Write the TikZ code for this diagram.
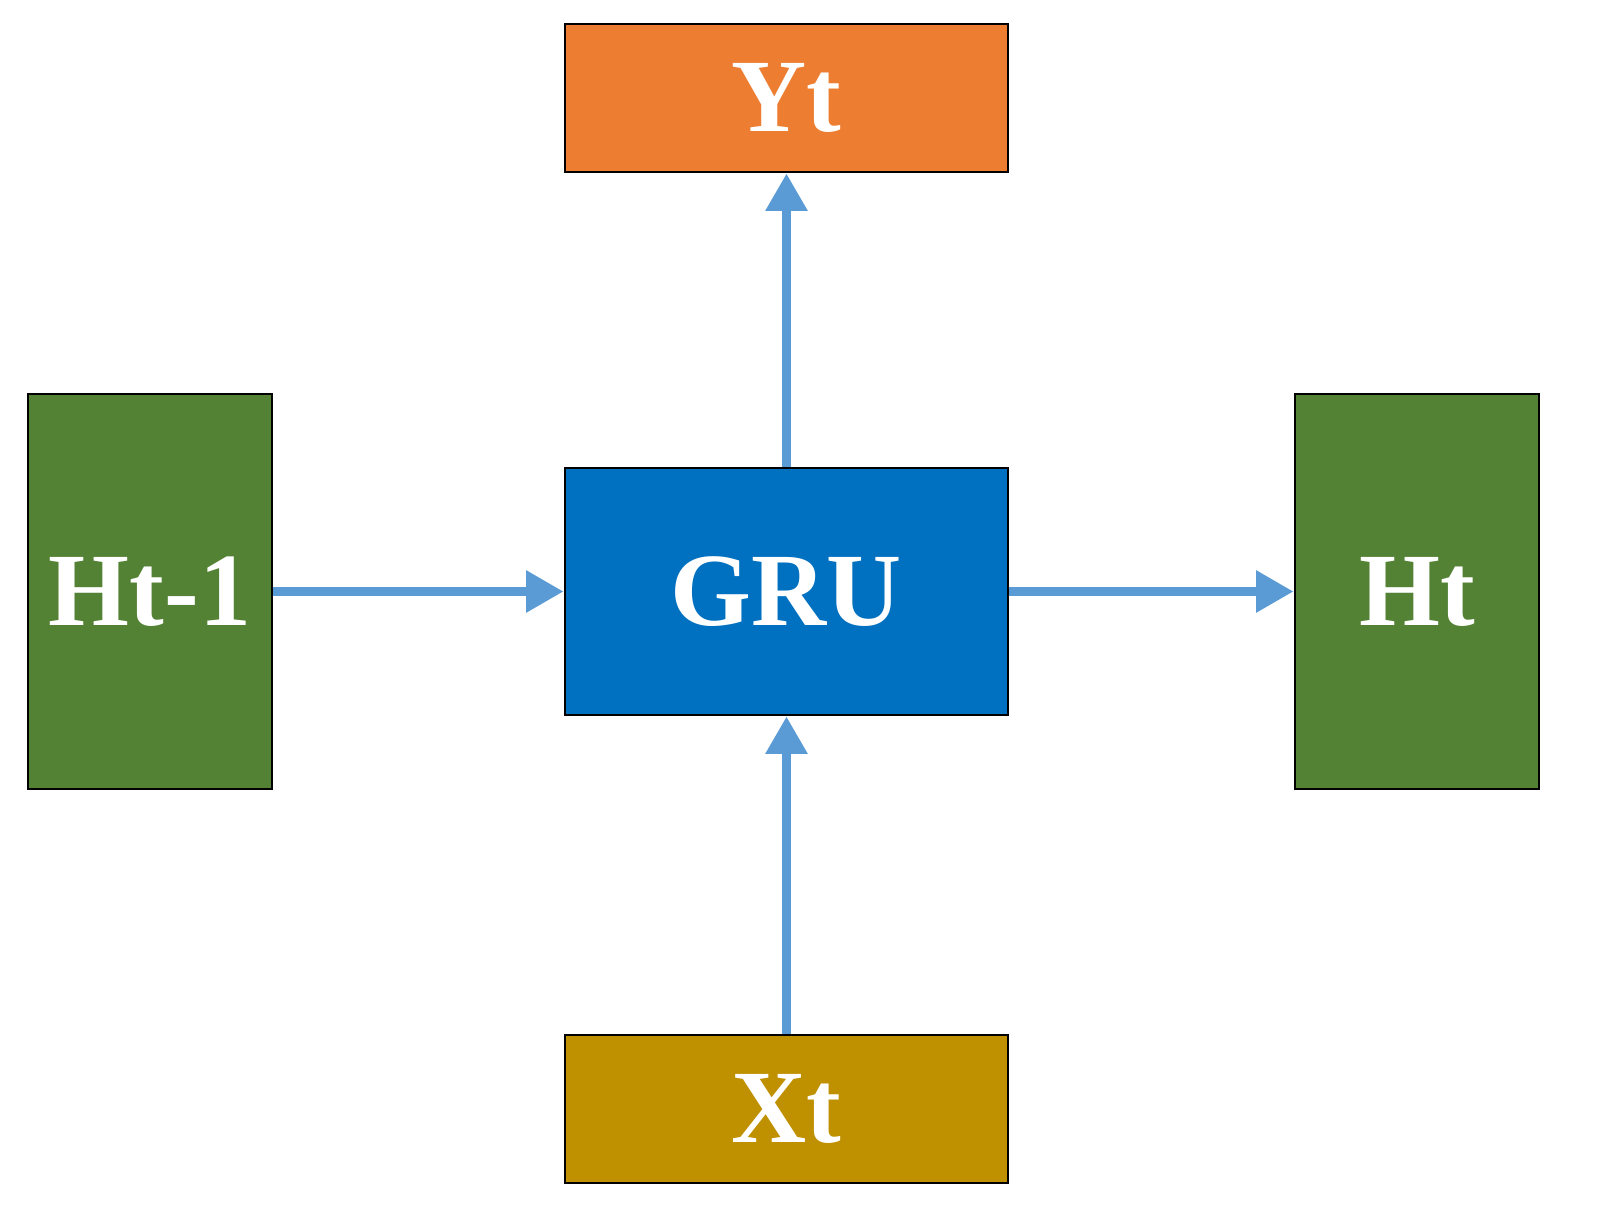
\documentclass[tikz,border=0pt]{standalone}
\usepackage{fontspec}
\setmainfont{Liberation Serif}[BoldFont={Liberation Serif Bold}]
\usetikzlibrary{arrows.meta}
\definecolor{orng}{HTML}{ED7D31}
\definecolor{gblue}{HTML}{0070C0}
\definecolor{gold}{HTML}{BF9000}
\definecolor{grn}{HTML}{548235}
\definecolor{arr}{HTML}{5B9BD5}
\begin{document}
\begin{tikzpicture}[x=0.75pt,y=-0.75pt,
  box/.style={draw=black,line width=2.2pt,text=white,font=\bfseries\fontsize{78}{86}\selectfont,inner sep=0pt},
  con/.style={draw=arr,line width=6.5pt,-{Triangle[length=28pt,width=30pt]}}]
\useasboundingbox (0,0) rectangle (1597,1227);
\node[box,fill=orng,minimum width=443*0.75pt,minimum height=148*0.75pt] (y) at (786.5,98) {Yt};
\node[box,fill=gblue,minimum width=443*0.75pt,minimum height=247*0.75pt] (g) at (786.5,591.5) {GRU};
\node[box,fill=gold,minimum width=443*0.75pt,minimum height=148*0.75pt] (x) at (786.5,1109) {Xt};
\node[box,fill=grn,minimum width=244*0.75pt,minimum height=395*0.75pt] (h0) at (150,591.5) {Ht-1};
\node[box,fill=grn,minimum width=244*0.75pt,minimum height=395*0.75pt] (h1) at (1417,591.5) {Ht};
\draw[con] (h0.east) -- (g.west);
\draw[con] (g.east) -- (h1.west);
\draw[con] (g.north) -- (y.south);
\draw[con] (x.north) -- (g.south);
\end{tikzpicture}
\end{document}
